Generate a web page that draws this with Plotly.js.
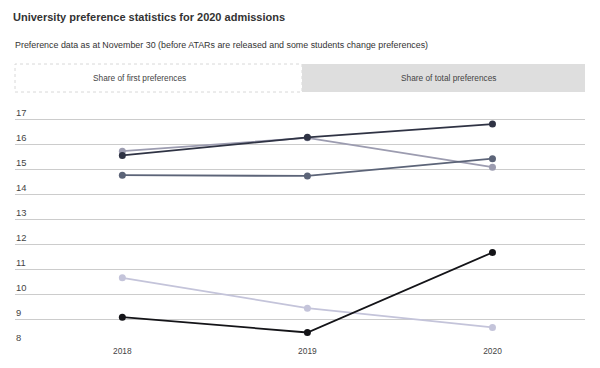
<!DOCTYPE html>
<html>
<head>
<meta charset="utf-8">
<script src="https://cdn.plot.ly/plotly-3.0.1.min.js"></script>
<style>
html,body{margin:0;padding:0;background:#fff;}
#chart{width:600px;height:368px;}
</style>
</head>
<body>
<div id="chart"></div>
<script>
var years = [2018, 2019, 2020];
var seriesA = [15.55, 16.27, 16.80];
var seriesB = [15.72, 16.25, 15.08];
var seriesC = [14.76, 14.73, 15.42];
var seriesD = [10.67, 9.46, 8.69];
var seriesE = [9.10, 8.49, 11.68];
var seriesNames = ["University A", "University B", "University C", "University D", "University E"];
var yTicks = [8, 9, 10, 11, 12, 13, 14, 15, 16, 17];
var titleText = "University preference statistics for 2020 admissions";
var subtitleText = "Preference data as at November 30 (before ATARs are released and some students change preferences)";
var tabLabels = ["Share of first preferences", "Share of total preferences"];

var colors = ["#2f3344", "#9c9cb0", "#5c6478", "#c4c4da", "#141418"];
var allSeries = [seriesA, seriesB, seriesC, seriesD, seriesE];
var FONT = "Liberation Sans, Arial, sans-serif";

var traces = allSeries.map(function (vals, i) {
  return {
    x: years, y: vals, name: seriesNames[i], type: "scatter", mode: "lines+markers",
    line: {color: colors[i], width: 1.8},
    marker: {color: colors[i], size: 7},
    hovertemplate: "%{x}: %{y}<extra>" + seriesNames[i] + "</extra>"
  };
});
var order = [3, 1, 2, 0, 4];
var data = order.map(function (k) { return traces[k]; });

var W = 600, H = 368;
var L = 15, R = 15, T = 104, B = 23;
function px(x) { return (x - L) / (W - L - R); }
function py(y) { return (H - B - y) / (H - T - B); }

var layout = {
  width: W, height: H,
  margin: {l: L, r: R, t: T, b: B, pad: 0},
  paper_bgcolor: "#ffffff", plot_bgcolor: "#ffffff",
  showlegend: false,
  font: {family: FONT, color: "#333"},
  title: {
    text: "<b>" + titleText + "</b>",
    x: 13 / W, xanchor: "left", xref: "container", y: 1 - 17 / H, yanchor: "middle", yref: "container",
    font: {family: FONT, size: 11, color: "#333"}
  },
  xaxis: {
    range: [2017.42, 2020.5], tickvals: years, ticktext: years.map(String),
    showgrid: false, zeroline: false, showline: false, ticks: "",
    tickfont: {family: FONT, size: 8.4, color: "#444"}, fixedrange: true
  },
  yaxis: {
    range: [7.99, 17.6], tickvals: yTicks, showgrid: true, gridcolor: "#cccccc", gridwidth: 1,
    zeroline: false, showline: false, ticks: "",
    ticklabelposition: "inside top", ticklabelstandoff: -2,
    tickfont: {family: FONT, size: 9.4, color: "#444"}, fixedrange: true
  },
  shapes: [
    {type: "rect", xref: "paper", yref: "paper", x0: px(15), x1: px(302), y0: py(92), y1: py(64),
     fillcolor: "#ffffff", line: {color: "#d8d8d8", width: 1, dash: "dot"}},
    {type: "rect", xref: "paper", yref: "paper", x0: px(302), x1: px(585), y0: py(92), y1: py(64),
     fillcolor: "#dedede", line: {width: 0}}
  ],
  annotations: [
    {text: subtitleText, xref: "paper", yref: "paper", x: px(13), y: py(45), xanchor: "left", yanchor: "middle",
     showarrow: false, font: {family: FONT, size: 8.9, color: "#333"}},
    {text: tabLabels[0], xref: "paper", yref: "paper", x: px(139), y: py(78), xanchor: "center", yanchor: "middle",
     showarrow: false, font: {family: FONT, size: 8.3, color: "#444"}},
    {text: tabLabels[1], xref: "paper", yref: "paper", x: px(448), y: py(78), xanchor: "center", yanchor: "middle",
     showarrow: false, font: {family: FONT, size: 8.3, color: "#444"}}
  ]
};

Plotly.newPlot("chart", data, layout, {displayModeBar: false});
</script>
</body>
</html>
